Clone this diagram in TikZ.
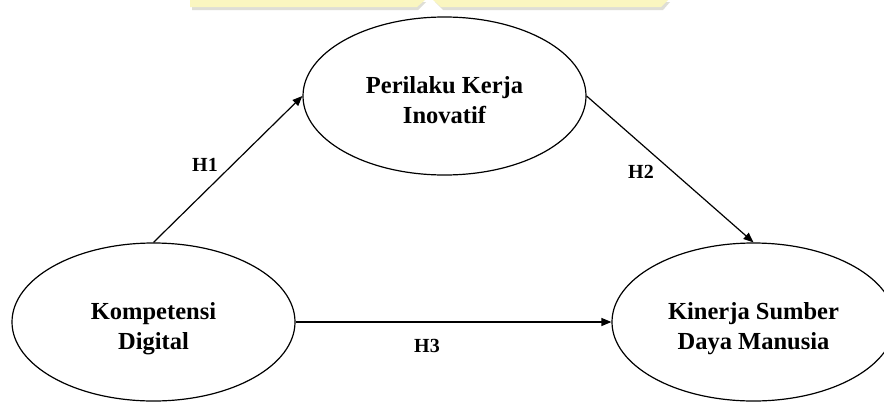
\documentclass[tikz,border=0pt]{standalone}
\usepackage{fontspec}
\setmainfont{Liberation Serif}
\usetikzlibrary{shapes.geometric,arrows.meta}

\definecolor{bandyellow}{RGB}{250,246,192}
\definecolor{bandshade}{RGB}{222,222,214}

\tikzset{
  construct/.style={draw=black, line width=1.2pt, ellipse, minimum width=283pt,
    minimum height=158pt, inner sep=0pt},
  ctext/.style={align=center, inner sep=0pt,
    font=\fontsize{24.5}{30}\selectfont\bfseries},
  hyp/.style={inner sep=0pt, font=\fontsize{20}{24}\selectfont\bfseries},
  path arrow/.style={draw=black, line width=1.2pt,
    -{Triangle[length=10pt,width=8pt]}},
}

\begin{document}
\begin{tikzpicture}[x=1pt,y=-1pt]
  \clip (0,0) rectangle (884,402);
  \fill[white] (0,0) rectangle (884,402);

  % faded banner strip along the top edge
  \fill[bandshade] (192,2) -- (426,2) -- (418,10) -- (192,10) -- cycle;
  \fill[bandshade] (435,2) -- (670,2) -- (663,10) -- (443,10) -- cycle;
  \fill[bandyellow] (190,0) -- (425,0) -- (417,7) -- (190,7) -- cycle;
  \fill[bandyellow] (433,0) -- (668,0) -- (661,7) -- (441,7) -- cycle;

  % constructs
  \node[construct] (pki) at (444.5,96) {};
  \node[construct] (kd)  at (153.5,322) {};
  \node[construct] (ksdm) at (753.5,322) {};

  \node[ctext] (pkit) at ([yshift=-4pt]pki.center) {Perilaku Kerja\\Inovatif};
  \node[ctext] (kdt) at ([yshift=-7pt]kd.center) {Kompetensi\\Digital};
  \node[ctext] (ksdmt) at ([yshift=-7pt]ksdm.center) {Kinerja Sumber\\Daya Manusia};

  % hypothesised paths
  \draw[path arrow] (kd.north) -- (pki.west);
  \draw[path arrow] (pki.east) -- (ksdm.north);
  \draw[path arrow] (kd.east) -- (ksdm.west);

  \node[hyp] (h1) at (205,165) {H1};
  \node[hyp] (h2) at (641,172) {H2};
  \node[hyp] (h3) at (427,346) {H3};
\end{tikzpicture}
\end{document}
